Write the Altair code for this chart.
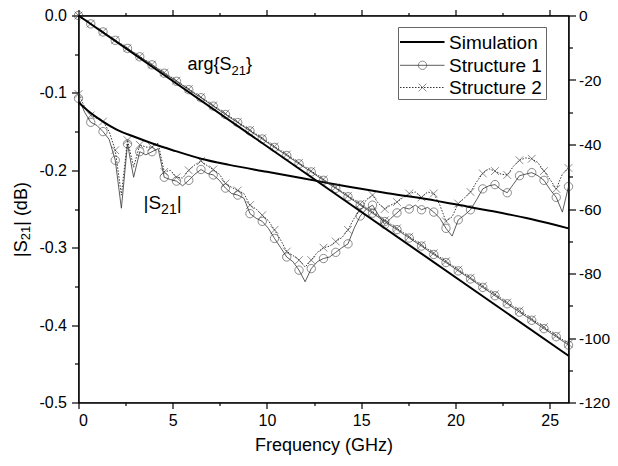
import altair as alt
import pandas as pd

# ---------------- data ----------------
marker_freq = [0.0, 0.65, 1.3, 1.95, 2.6, 3.25, 3.9, 4.55, 5.2, 5.85, 6.5, 7.15, 7.8, 8.45,
               9.1, 9.75, 10.4, 11.05, 11.7, 12.35, 13.0, 13.65, 14.3, 14.95, 15.6, 16.25,
               16.9, 17.55, 18.2, 18.85, 19.5, 20.15, 20.8, 21.45, 22.1, 22.75, 23.4, 24.05,
               24.7, 25.35, 26.0]
mid_freq = [0.325, 0.975, 1.625, 2.275, 2.925, 3.575, 4.225, 4.875, 5.525, 6.175, 6.825,
            7.475, 8.125, 8.775, 9.425, 10.075, 10.725, 11.375, 12.025, 12.675, 13.325,
            13.975, 14.625, 15.275, 15.925, 16.575, 17.225, 17.875, 18.525, 19.175, 19.825,
            20.475, 21.125, 21.775, 22.425, 23.075, 23.725, 24.375, 25.025, 25.675]

# |S21| (dB), Structure 1 at marker frequencies and between markers
s1_mag_mark = [-0.107, -0.138, -0.150, -0.187, -0.166, -0.176, -0.176, -0.209, -0.214, -0.213,
               -0.199, -0.206, -0.223, -0.232, -0.256, -0.266, -0.288, -0.312, -0.329, -0.327,
               -0.314, -0.306, -0.295, -0.259, -0.245, -0.270, -0.255, -0.250, -0.251, -0.254,
               -0.275, -0.264, -0.251, -0.224, -0.2185, -0.229, -0.207, -0.203, -0.213, -0.235,
               -0.221]
s1_mag_mid = [-0.125, -0.142, -0.160, -0.249, -0.209, -0.180, -0.172, -0.212, -0.220, -0.205,
              -0.204, -0.213, -0.230, -0.236, -0.262, -0.275, -0.300, -0.318, -0.344, -0.318,
              -0.312, -0.300, -0.275, -0.250, -0.258, -0.262, -0.248, -0.245, -0.248, -0.262,
              -0.285, -0.258, -0.238, -0.220, -0.225, -0.218, -0.205, -0.207, -0.225, -0.254]
# |S21| (dB), Structure 2
s2_mag_mark = [-0.1015, -0.129, -0.137, -0.174, -0.161, -0.167, -0.170, -0.202, -0.209, -0.200,
               -0.188, -0.199, -0.217, -0.226, -0.245, -0.258, -0.277, -0.305, -0.316, -0.316,
               -0.300, -0.292, -0.277, -0.251, -0.232, -0.250, -0.241, -0.230, -0.235, -0.230,
               -0.266, -0.243, -0.228, -0.204, -0.201, -0.206, -0.187, -0.185, -0.201, -0.224,
               -0.197]
s2_mag_mid = [-0.118, -0.133, -0.150, -0.232, -0.196, -0.170, -0.165, -0.200, -0.210, -0.193,
              -0.194, -0.205, -0.222, -0.230, -0.250, -0.265, -0.290, -0.310, -0.325, -0.306,
              -0.298, -0.287, -0.262, -0.238, -0.243, -0.245, -0.235, -0.228, -0.228, -0.245,
              -0.260, -0.236, -0.215, -0.198, -0.205, -0.195, -0.184, -0.190, -0.212, -0.205]

# arg{S21} (deg)
s1_arg = [0.0, -2.6, -5.1, -7.7, -10.2, -12.8, -15.3, -17.9, -20.4, -23.0, -25.5, -28.1, -30.7,
          -33.2, -35.8, -38.3, -40.9, -43.4, -46.0, -48.5, -51.1, -53.6, -56.2, -58.8, -61.3,
          -63.9, -66.4, -69.0, -71.5, -74.1, -76.6, -79.2, -81.7, -84.3, -86.9, -89.4, -92.0,
          -94.5, -97.1, -99.6, -102.2]
s2_arg = [0.0, -2.5, -5.0, -7.6, -10.1, -12.7, -15.2, -17.7, -20.2, -22.8, -25.3, -27.9, -30.4,
          -33.0, -35.5, -38.0, -40.6, -43.1, -45.7, -48.2, -50.8, -53.3, -55.9, -58.4, -60.9,
          -63.5, -66.0, -68.6, -71.1, -73.7, -76.2, -78.8, -81.3, -83.9, -86.4, -89.0, -91.5,
          -94.1, -96.6, -99.2, -101.8]

# Simulation
sim_mag_freq = [0.0, 0.5, 1.3, 2.0, 3.0, 4.0, 5.0, 6.5, 8.0, 10.0, 12.7, 14.5, 16.5, 19.0,
                20.0, 22.0, 24.0, 26.0]
sim_mag = [-0.112, -0.123, -0.137, -0.147, -0.157, -0.166, -0.174, -0.185, -0.193, -0.202,
           -0.214, -0.222, -0.230, -0.2395, -0.244, -0.253, -0.263, -0.275]
sim_arg_freq = [0.0, 26.0]
sim_arg = [0.0, -105.5]

# ---------------- tables ----------------
line_rows = []
for i, f in enumerate(marker_freq):
    line_rows.append({"f": f, "s1": s1_mag_mark[i], "s2": s2_mag_mark[i]})
    if i < len(mid_freq):
        line_rows.append({"f": mid_freq[i], "s1": s1_mag_mid[i], "s2": s2_mag_mid[i]})
mag_line = pd.DataFrame(line_rows)
mag_mark = pd.DataFrame({"f": marker_freq, "s1": s1_mag_mark, "s2": s2_mag_mark})
arg_df = pd.DataFrame({"f": marker_freq, "s1": s1_arg, "s2": s2_arg})
sim_mag_df = pd.DataFrame({"f": sim_mag_freq, "v": sim_mag})
sim_arg_df = pd.DataFrame({"f": sim_arg_freq, "v": sim_arg})

FONT = "Liberation Sans"
MINUS = "\u2212"
XSHAPE = "M-1,-1L1,1M-1,1L1,-1"
GRAY = "#333333"

W, H = 490, 387
TOP = 7.5

x_scale = alt.Scale(domain=[0, 26], nice=False, zero=False)
left_scale = alt.Scale(domain=[-0.5, 0], nice=False, zero=False)
right_scale = alt.Scale(domain=[-120, 0], nice=False, zero=False)

x_ticks = [0, 2.5, 5, 7.5, 10, 12.5, 15, 17.5, 20, 22.5, 25]
x_axis_bottom = alt.Axis(
    values=x_ticks, title="Frequency (GHz)", titleFontSize=18, titleFontWeight="normal",
    titlePadding=8, labelFontSize=16, labelPadding=4,
    labelExpr="datum.value % 5 == 0 ? format(datum.value, 'd') : ''",
    tickSize={"condition": {"test": "datum.value % 5 != 0", "value": 3}, "value": 6},
    labelOverlap=False, grid=False,
)
x_axis_top = alt.Axis(
    orient="top", values=x_ticks, labels=False, title=None,
    tickSize={"condition": {"test": "datum.value % 5 != 0", "value": 3}, "value": 6},
    grid=False,
)
left_ticks = [-0.5, -0.45, -0.4, -0.35, -0.3, -0.25, -0.2, -0.15, -0.1, -0.05, 0]
y_axis_left = alt.Axis(
    values=left_ticks, title=None, labelFontSize=16, labelPadding=5,
    labelExpr=f"abs(round(datum.value*20)) % 2 == 1 ? '' : replace(format(datum.value, '.1f'), '{MINUS}', '-')",
    tickSize={"condition": {"test": "abs(round(datum.value*20)) % 2 == 1", "value": 4}, "value": 7},
    labelOverlap=False, grid=False,
)
right_ticks = [-120, -110, -100, -90, -80, -70, -60, -50, -40, -30, -20, -10, 0]
y_axis_right = alt.Axis(
    orient="right", values=right_ticks, title=None, labelFontSize=15.5, labelPadding=3,
    labelExpr=f"datum.value % 20 != 0 ? '' : replace(format(datum.value, 'd'), '{MINUS}', '-')",
    tickSize={"condition": {"test": "datum.value % 20 != 0", "value": 4}, "value": 7},
    labelOverlap=False, grid=False,
)

xb = alt.X("f:Q", scale=x_scale, axis=x_axis_bottom)
xt = alt.X("f:Q", scale=x_scale, axis=x_axis_top)

# ---- left (|S21|) group ----
sim_mag_line = alt.Chart(sim_mag_df).mark_line(color="black", strokeWidth=2, interpolate="monotone").encode(
    x=xb, y=alt.Y("v:Q", scale=left_scale, axis=y_axis_left))
s1_line = alt.Chart(mag_line).mark_line(color=GRAY, strokeWidth=0.8).encode(
    x=xb, y=alt.Y("s1:Q", scale=left_scale, axis=y_axis_left))
s2_line = alt.Chart(mag_line).mark_line(color=GRAY, strokeWidth=1, strokeDash=[1.5, 1.5]).encode(
    x=xb, y=alt.Y("s2:Q", scale=left_scale, axis=y_axis_left))
s1_pts = alt.Chart(mag_mark).mark_point(shape="circle", filled=False, size=70, color=GRAY, strokeWidth=0.8).encode(
    x=xb, y=alt.Y("s1:Q", scale=left_scale, axis=y_axis_left))
s2_pts = alt.Chart(mag_mark).mark_point(shape=XSHAPE, filled=False, size=60, color=GRAY, strokeWidth=0.8).encode(
    x=xb, y=alt.Y("s2:Q", scale=left_scale, axis=y_axis_left))
left_group = alt.layer(s1_line, s2_line, s1_pts, s2_pts, sim_mag_line)

# ---- right (arg) group ----
sim_arg_line = alt.Chart(sim_arg_df).mark_line(color="black", strokeWidth=2).encode(
    x=xt, y=alt.Y("v:Q", scale=right_scale, axis=y_axis_right))
a1_line = alt.Chart(arg_df).mark_line(color=GRAY, strokeWidth=0.8).encode(
    x=xt, y=alt.Y("s1:Q", scale=right_scale, axis=y_axis_right))
a2_line = alt.Chart(arg_df).mark_line(color=GRAY, strokeWidth=1, strokeDash=[1.5, 1.5]).encode(
    x=xt, y=alt.Y("s2:Q", scale=right_scale, axis=y_axis_right))
a1_pts = alt.Chart(arg_df).mark_point(shape="circle", filled=False, size=70, color=GRAY, strokeWidth=0.8).encode(
    x=xt, y=alt.Y("s1:Q", scale=right_scale, axis=y_axis_right))
a2_pts = alt.Chart(arg_df).mark_point(shape=XSHAPE, filled=False, size=60, color=GRAY, strokeWidth=0.8).encode(
    x=xt, y=alt.Y("s2:Q", scale=right_scale, axis=y_axis_right))
right_group = alt.layer(a1_line, a2_line, a1_pts, a2_pts, sim_arg_line)

# ---- decorations: annotations, axis title with subscript, legend ----
one = pd.DataFrame({"k": [0]})


def txt(s, x, y, size, dx=0, dy=0, angle=0, baseline="alphabetic"):
    return alt.Chart(one).mark_text(
        text=s, font=FONT, fontSize=size, align="left", baseline=baseline,
        dx=dx, dy=dy, angle=angle, color="black"
    ).encode(x=alt.value(x), y=alt.value(y))


deco = []
# arg{S21}
deco += [txt("arg{S", 109, 54.5, 18), txt("21", 109, 54.5, 13, dx=44, dy=5), txt("}", 109, 54.5, 18, dx=58.5)]
# |S21|
deco += [txt("|S", 65, 193.5, 19), txt("21", 65, 193.5, 14, dx=17.6, dy=5), txt("|", 65, 193.5, 19, dx=33.2)]
# left axis title, rotated
tx, ty = -57, 241.5
deco += [txt("|S", tx, ty, 18, angle=270, baseline="middle"),
         txt("21", tx, ty, 13, dx=16.7, dy=4, angle=270, baseline="middle"),
         txt("| (dB)", tx, ty, 18, dx=31.2, angle=270, baseline="middle")]

# legend box
box = alt.Chart(one).mark_rect(fill="white", stroke="#666666", strokeWidth=1).encode(
    x=alt.value(320), x2=alt.value(468), y=alt.value(12), y2=alt.value(84))
leg_y = [26.5, 49.8, 72]
lx1, lx2, lmid, ltx = 321.5, 366, 344, 370.5
leg = [box]
leg.append(alt.Chart(one).mark_rule(color="black", strokeWidth=2).encode(
    x=alt.value(lx1), x2=alt.value(lx2), y=alt.value(leg_y[0])))
leg.append(alt.Chart(one).mark_rule(color=GRAY, strokeWidth=0.8).encode(
    x=alt.value(lx1), x2=alt.value(lx2), y=alt.value(leg_y[1])))
leg.append(alt.Chart(one).mark_point(shape="circle", filled=False, size=70, color=GRAY, strokeWidth=0.8).encode(
    x=alt.value(lmid), y=alt.value(leg_y[1])))
leg.append(alt.Chart(one).mark_rule(color=GRAY, strokeWidth=1, strokeDash=[1.5, 1.5]).encode(
    x=alt.value(lx1), x2=alt.value(lx2), y=alt.value(leg_y[2])))
leg.append(alt.Chart(one).mark_point(shape=XSHAPE, filled=False, size=60, color=GRAY, strokeWidth=0.8).encode(
    x=alt.value(lmid), y=alt.value(leg_y[2])))
for name, yy in zip(["Simulation", "Structure 1", "Structure 2"], leg_y):
    leg.append(txt(name, ltx, yy + 6.8, 19))

chart = alt.layer(left_group, right_group, *deco, *leg).resolve_scale(
    x="independent", y="independent"
).properties(
    width=W, height=H, autosize="none",
    padding={"left": 70.5, "top": TOP, "right": 602 - 70.5 - W, "bottom": 450 - TOP - H},
).configure_view(stroke="black", strokeWidth=1.2).configure_axis(
    labelFont=FONT, titleFont=FONT, labelColor="black", titleColor="black",
    domainColor="black", tickColor="black", domainWidth=1.2, tickWidth=1.2,
)

chart.save("out.html", embed_options={"renderer": "svg", "actions": False})
